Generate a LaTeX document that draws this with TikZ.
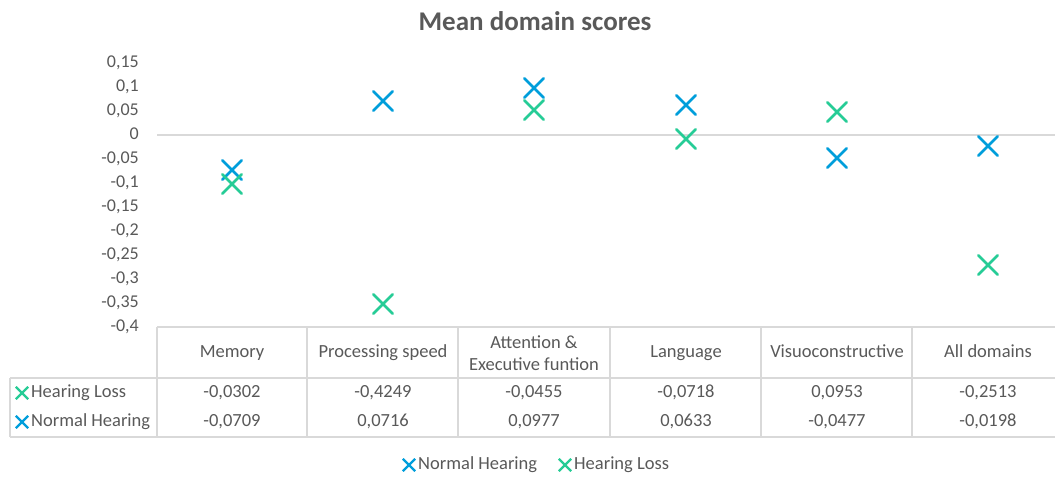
\documentclass[tikz,border=0pt]{standalone}
\usepackage{fontspec}
\setmainfont{Carlito}
\usetikzlibrary{shapes.misc}
\definecolor{nhblue}{RGB}{0,158,219}
\definecolor{hlgreen}{RGB}{38,204,150}
\definecolor{txtgray}{RGB}{89,89,89}
\definecolor{linegray}{RGB}{217,217,217}
\tikzset{
  mk/.style={cross out, draw, minimum size=17pt, inner sep=0pt, line width=2.5pt, line cap=round},
  mkn/.style={mk, nhblue},
  mkh/.style={mk, hlgreen},
  smk/.style={cross out, draw, minimum size=10pt, inner sep=0pt, line width=2.3pt},
  ylab/.style={anchor=east, text=txtgray, font=\fontsize{18}{20}\selectfont, inner sep=0pt, text height=12.5pt, text depth=3.5pt},
  cell/.style={text=txtgray, font=\fontsize{18.5}{22}\selectfont, inner sep=0pt, align=center},
  cell1/.style={cell, text height=13pt, text depth=4pt},
  grid/.style={draw=linegray, line width=1.3pt},
}
\begin{document}
\begin{tikzpicture}[x=1pt,y=-1pt]
\useasboundingbox (0,0) rectangle (1055,477);
\fill[white] (0,0) rectangle (1055,477);
% title
\node[text=txtgray, font=\bfseries\fontsize{27}{30}\selectfont] (title) at (535,21) {Mean domain scores};
% y labels
\foreach \v/\t [count=\i from 0] in {0.15/{0,15},0.1/{0,1},0.05/{0,05},0/0,-0.05/{-0,05},-0.1/{-0,1},-0.15/{-0,15},-0.2/{-0,2},-0.25/{-0,25},-0.3/{-0,3},-0.35/{-0,35},-0.4/{-0,4}}
  \node[ylab] (yl\i) at (139,{63+24*\i}) {\t};
% zero line
\coordinate (z0) at (157,135);
\coordinate (z1) at (1055,135);
\draw[grid] (z0) -- (z1);
% table lines
\draw[grid] (157,327) -- (1055,327);
\draw[grid] (10,378) -- (1055,378);
\draw[grid] (10,437) -- (1055,437);
\draw[grid] (10,378) -- (10,437);
\foreach \x in {157,307,458,610,761,912}
  \draw[grid] (\x,327) -- (\x,437);
% header cells
\node[cell1] (h1) at (232,353) {Memory};
\node[cell1] (h2) at (383,353) {Processing speed};
\node[cell] (h3) at (534,353) {Attention \&\\Executive funtion};
\node[cell1] (h4) at (686,353) {Language};
\node[cell1] (h5) at (837,353) {Visuoconstructive};
\node[cell1] (h6) at (988,353) {All domains};
% row labels
\node[smk, hlgreen] (khl) at (22,393) {};
\node[cell1, anchor=west] (rhl) at (31,393) {Hearing Loss};
\node[smk, nhblue] (knh) at (22,422) {};
\node[cell1, anchor=west] (rnh) at (31,422) {Normal Hearing};
% values
\foreach \x/\a/\b [count=\i] in {232/{-0,0302}/{-0,0709},383/{-0,4249}/{0,0716},534/{-0,0455}/{0,0977},686/{-0,0718}/{0,0633},837/{0,0953}/{-0,0477},988/{-0,2513}/{-0,0198}}{
  \node[cell1] (va\i) at (\x,393) {\a};
  \node[cell1] (vb\i) at (\x,422) {\b};
}
% markers
\node[mkn] (nh1) at (232,170) {};
\node[mkn] (nh2) at (383,101) {};
\node[mkn] (nh3) at (534,88) {};
\node[mkn] (nh4) at (686,105) {};
\node[mkn] (nh5) at (837,158) {};
\node[mkn] (nh6) at (988,146) {};
\node[mkh] (hl1) at (232,184) {};
\node[mkh] (hl2) at (383,304) {};
\node[mkh] (hl3) at (534,110) {};
\node[mkh] (hl4) at (686,139) {};
\node[mkh] (hl5) at (837,112) {};
\node[mkh] (hl6) at (988,265) {};
% legend
\node[smk, nhblue] (lnh) at (409,465) {};
\node[cell1, anchor=west] (tnh) at (418,465) {Normal Hearing};
\node[smk, hlgreen] (lhl) at (565,465) {};
\node[cell1, anchor=west] (thl) at (574,465) {Hearing Loss};
\end{tikzpicture}
\end{document}
